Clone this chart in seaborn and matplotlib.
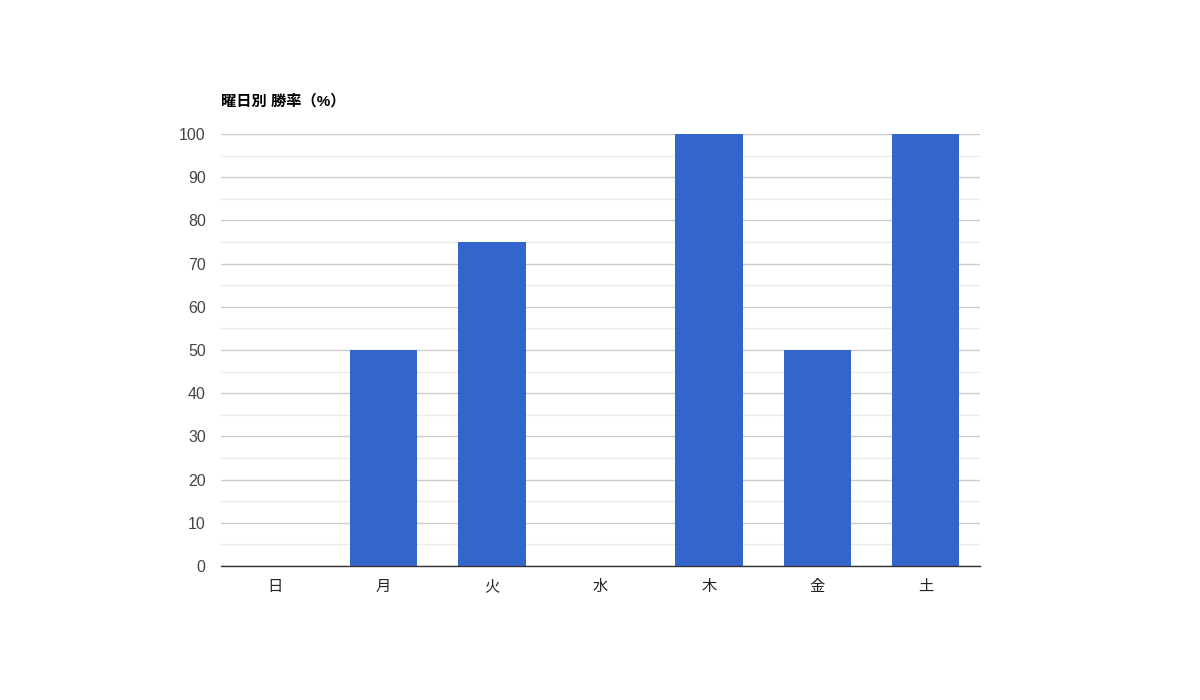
import seaborn as sns
import matplotlib.pyplot as plt
import pandas as pd
from matplotlib.ticker import MultipleLocator

dias = ["日", "月", "火", "水", "木", "金", "土"]
tasa = [0, 50, 75, 0, 100, 50, 100]

df = pd.DataFrame({"dia": dias, "tasa": tasa})

sns.set_style("white")
plt.rcParams['font.family'] = ['Liberation Sans', 'Noto Sans CJK JP', 'DejaVu Sans']

fig = plt.figure(figsize=(12, 7), dpi=100)
ax = fig.add_axes([221/1200, 1-566/700, 759/1200, 432/700])

sns.barplot(x="dia", y="tasa", data=df, color="#3366cc", saturation=1,
            width=0.62, linewidth=0, ax=ax, zorder=3)

ax.set_xlim(-0.5, 6.5)
ax.set_ylim(0, 100)
ax.yaxis.set_major_locator(MultipleLocator(10))
ax.yaxis.set_minor_locator(MultipleLocator(5))
ax.grid(axis='y', which='major', color='#cccccc', linewidth=1, zorder=0)
ax.grid(axis='y', which='minor', color='#ebebeb', linewidth=1, zorder=0)
ax.set_axisbelow(True)

for s in ["top", "right", "left"]:
    ax.spines[s].set_visible(False)
ax.spines["bottom"].set_color("#333333")
ax.spines["bottom"].set_linewidth(1)
ax.spines["bottom"].set_zorder(4)

ax.tick_params(axis='both', which='both', length=0)
ax.tick_params(axis='y', labelsize=11.5, labelcolor='#444444', pad=11)
ax.tick_params(axis='x', labelsize=11, labelcolor='#222222', pad=10)
ax.set_xlabel("")
ax.set_ylabel("")

fig.text(221/1200, 1-101/700, "曜日別 勝率（%）", fontsize=11, fontweight='bold',
         ha='left', va='center', color='#000000')

plt.savefig("out.png", dpi=100)
